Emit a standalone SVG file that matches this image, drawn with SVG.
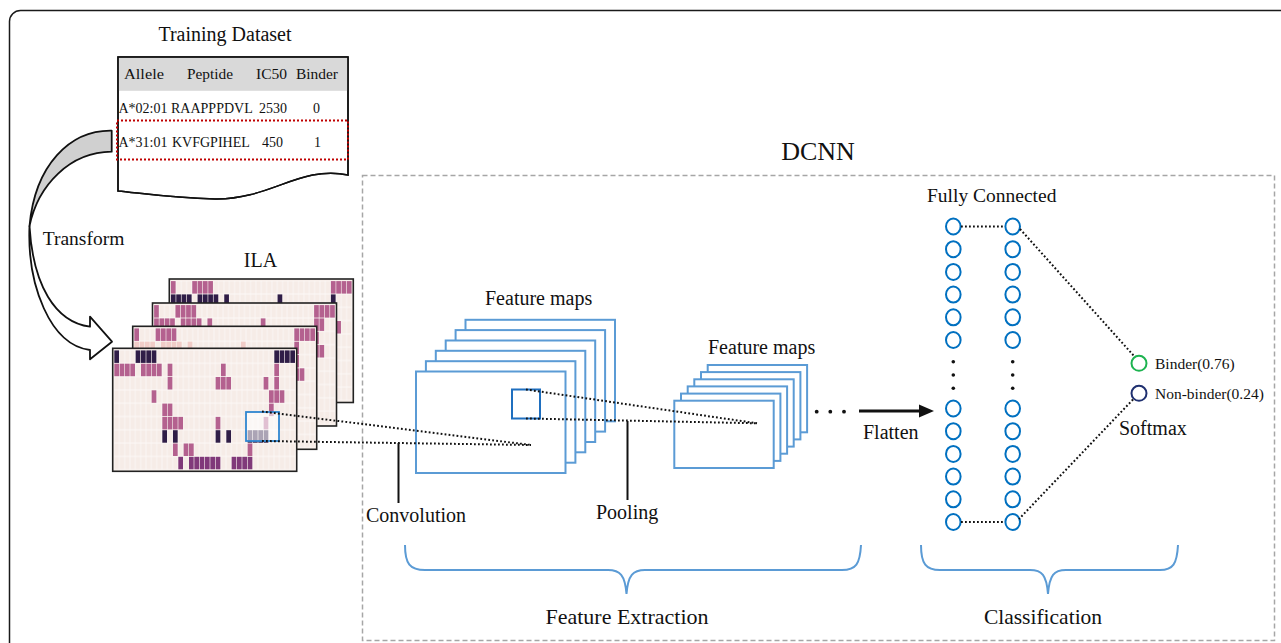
<svg xmlns="http://www.w3.org/2000/svg" xmlns:xlink="http://www.w3.org/1999/xlink" width="1281" height="643" viewBox="0 0 1281 643">
  <style>
    text { font-family: "Liberation Serif", "Times New Roman", serif; fill: #111; }
    .lbl { font-size: 20px; }
    .tbl { font-size: 15px; }
    .row { font-size: 14px; }
    .frame { fill: none; stroke: #1a1a1a; stroke-width: 1.5; }
    .panel { fill: #f7eee9; stroke: #222; stroke-width: 1.6; }
    .d { fill: #2f1d47; }
    .p { fill: #b4618f; }
    .m { fill: #80397a; }
    .l { fill: #f1cdc8; }
    .fmap { fill: #fff; stroke: #5b9bd5; stroke-width: 2; }
    .neuron { fill: #fff; stroke: #0070c0; stroke-width: 2; }
    .dot { fill: none; stroke: #111; stroke-width: 2; stroke-dasharray: 1.8 2.2; }
    .lead { stroke: #111; stroke-width: 2; }
    .brace { fill: none; stroke: #5b9bd5; stroke-width: 2; }
  </style>
  <defs>
    <!-- heatmap background tile: faint grid line around a cream cell -->
    <pattern id="grid" width="1" height="1" patternUnits="userSpaceOnUse">
      <rect width="1" height="1" fill="#fcf8f6"/>
      <rect x="0.08" y="0.04" width="0.84" height="0.92" fill="#f6ece7"/>
    </pattern>
    <rect id="c" x="0.06" y="0.03" width="0.88" height="0.94"/>
  </defs>

  <!-- outer rounded frame (runs off the right and bottom edges) -->
  <rect class="frame" x="9.5" y="10.5" width="1320" height="700" rx="11"/>

  <!-- training data table -->
  <g id="training-dataset">
    <text x="225" y="41" font-size="20" text-anchor="middle">Training Dataset</text>
    <path d="M118,57 H348 V175 C300,165 270,200 215,199 C170,198 140,193 118,191 Z" fill="#fff" stroke="#111" stroke-width="1.5"/>
    <rect x="118.8" y="57.8" width="228.5" height="33" fill="#d9d9d9"/>
    <path d="M118,57 H348 V175 C300,165 270,200 215,199 C170,198 140,193 118,191 Z" fill="none" stroke="#111" stroke-width="1.5"/>
    <g class="tbl">
      <text x="124" y="79" textLength="40" lengthAdjust="spacingAndGlyphs">Allele</text>
      <text x="187" y="79" textLength="46" lengthAdjust="spacingAndGlyphs">Peptide</text>
      <text x="256" y="79" textLength="31" lengthAdjust="spacingAndGlyphs">IC50</text>
      <text x="296" y="79" textLength="42" lengthAdjust="spacingAndGlyphs">Binder</text>
    </g>
    <g class="row">
      <text x="118.5" y="113">A*02:01</text>
      <text x="171" y="113">RAAPPPDVL</text>
      <text x="259" y="113">2530</text>
      <text x="313" y="113">0</text>
      <text x="118.5" y="147">A*31:01</text>
      <text x="172" y="147">KVFGPIHEL</text>
      <text x="262" y="147">450</text>
      <text x="314" y="147">1</text>
    </g>
    <rect x="117" y="120.5" width="231" height="39" fill="none" stroke="#c00000" stroke-width="2" stroke-dasharray="2 2"/>
  </g>

  <!-- curved block arrow -->
  <g id="transform-arrow" stroke="#111" stroke-width="1.8" stroke-linejoin="round">
    <path d="M111.7,130.7 C70,130 35,165 29.5,226 C38,185 70,152 111.7,151.7 Z" fill="#d0d0d0"/>
    <path d="M29.5,226 C27,285 50,345 90,350 L90,359.3 L112,341.7 L90,316.7 L90,326.7 C55,322 33,285 29.5,226 Z" fill="#fff"/>
    <text x="42.7" y="245" font-size="19.5" stroke="none">Transform</text>
  </g>

  <!-- stack of ILA heatmaps -->
  <g id="ila">
    <text x="260.5" y="267" class="lbl" text-anchor="middle">ILA</text>

    <g id="ila-4">
      <rect class="panel" x="169.3" y="279" width="184" height="123.5"/>
      <g transform="translate(170.6,280.7) scale(5.333,13.3)">
        <rect width="34" height="9" fill="url(#grid)"/>
        <use href="#c" x="0" y="0" class="p"/><use href="#c" x="4" y="0" class="p"/><use href="#c" x="5" y="0" class="p"/><use href="#c" x="6" y="0" class="p"/><use href="#c" x="7" y="0" class="p"/>
        <use href="#c" x="30" y="0" class="p"/><use href="#c" x="31" y="0" class="p"/><use href="#c" x="32" y="0" class="p"/><use href="#c" x="33" y="0" class="p"/>
        <use href="#c" x="0" y="1" class="d"/><use href="#c" x="1" y="1" class="d"/><use href="#c" x="2" y="1" class="d"/><use href="#c" x="3" y="1" class="d"/>
        <use href="#c" x="5" y="1" class="d"/><use href="#c" x="6" y="1" class="d"/><use href="#c" x="7" y="1" class="d"/><use href="#c" x="8" y="1" class="d"/>
        <use href="#c" x="10" y="1" class="d"/><use href="#c" x="20" y="1" class="d"/><use href="#c" x="30" y="1" class="d"/>
        <use href="#c" x="31" y="3" class="p"/>
      </g>
    </g>

    <g id="ila-3">
      <rect class="panel" x="152.5" y="303" width="184" height="123"/>
      <g transform="translate(153.8,304.7) scale(5.333,13.3)">
        <rect width="34" height="9" fill="url(#grid)"/>
        <use href="#c" x="0" y="0" class="p"/><use href="#c" x="4" y="0" class="p"/><use href="#c" x="5" y="0" class="p"/><use href="#c" x="6" y="0" class="p"/><use href="#c" x="7" y="0" class="p"/>
        <use href="#c" x="30" y="0" class="p"/><use href="#c" x="31" y="0" class="p"/><use href="#c" x="32" y="0" class="p"/><use href="#c" x="33" y="0" class="p"/>
        <use href="#c" x="0" y="1" class="p"/><use href="#c" x="1" y="1" class="p"/><use href="#c" x="2" y="1" class="p"/><use href="#c" x="3" y="1" class="p"/>
        <use href="#c" x="5" y="1" class="p"/><use href="#c" x="6" y="1" class="p"/><use href="#c" x="7" y="1" class="p"/><use href="#c" x="8" y="1" class="p"/>
        <use href="#c" x="10" y="1" class="p"/><use href="#c" x="20" y="1" class="p"/><use href="#c" x="30" y="1" class="p"/><use href="#c" x="31" y="1" class="p"/>
        <use href="#c" x="30" y="2" class="p"/>
        <use href="#c" x="30" y="3" class="p"/><use href="#c" x="31" y="3" class="p"/>
      </g>
    </g>

    <g id="ila-2">
      <rect class="panel" x="132.7" y="326.3" width="184" height="123"/>
      <g transform="translate(134,328) scale(5.333,13.3)">
        <rect width="34" height="9" fill="url(#grid)"/>
        <use href="#c" x="0" y="0" class="p"/><use href="#c" x="4" y="0" class="p"/><use href="#c" x="5" y="0" class="p"/><use href="#c" x="6" y="0" class="p"/><use href="#c" x="7" y="0" class="p"/>
        <use href="#c" x="30" y="0" class="p"/><use href="#c" x="31" y="0" class="p"/><use href="#c" x="32" y="0" class="p"/><use href="#c" x="33" y="0" class="p"/>
        <use href="#c" x="0" y="1" class="l"/><use href="#c" x="1" y="1" class="l"/><use href="#c" x="2" y="1" class="l"/><use href="#c" x="3" y="1" class="l"/>
        <use href="#c" x="5" y="1" class="l"/><use href="#c" x="6" y="1" class="l"/><use href="#c" x="7" y="1" class="l"/><use href="#c" x="8" y="1" class="l"/>
        <use href="#c" x="10" y="1" class="l"/><use href="#c" x="20" y="1" class="l"/><use href="#c" x="30" y="1" class="p"/>
        <use href="#c" x="30" y="2" class="p"/>
        <use href="#c" x="29" y="3" class="p"/><use href="#c" x="30" y="3" class="p"/><use href="#c" x="31" y="3" class="p"/>
      </g>
    </g>

    <g id="ila-1">
      <rect class="panel" x="112.7" y="348.3" width="184" height="123"/>
      <g transform="translate(114,350) scale(5.333,13.3)">
        <rect width="34" height="9" fill="url(#grid)"/>
        <!-- row 0 -->
        <use href="#c" x="0" y="0" class="d"/><use href="#c" x="4" y="0" class="d"/><use href="#c" x="5" y="0" class="d"/><use href="#c" x="6" y="0" class="d"/><use href="#c" x="7" y="0" class="d"/>
        <use href="#c" x="30" y="0" class="d"/><use href="#c" x="31" y="0" class="d"/><use href="#c" x="32" y="0" class="d"/><use href="#c" x="33" y="0" class="d"/>
        <!-- row 1 -->
        <use href="#c" x="0" y="1" class="p"/><use href="#c" x="1" y="1" class="p"/><use href="#c" x="2" y="1" class="p"/><use href="#c" x="3" y="1" class="p"/>
        <use href="#c" x="5" y="1" class="p"/><use href="#c" x="6" y="1" class="p"/><use href="#c" x="7" y="1" class="p"/><use href="#c" x="8" y="1" class="p"/>
        <use href="#c" x="10" y="1" class="p"/><use href="#c" x="20" y="1" class="p"/><use href="#c" x="30" y="1" class="p"/>
        <!-- row 2 -->
        <use href="#c" x="10" y="2" class="p"/><use href="#c" x="19" y="2" class="p"/><use href="#c" x="20" y="2" class="p"/><use href="#c" x="21" y="2" class="p"/>
        <use href="#c" x="28" y="2" class="p"/><use href="#c" x="30" y="2" class="p"/>
        <!-- row 3 -->
        <use href="#c" x="7" y="3" class="p"/><use href="#c" x="29" y="3" class="p"/><use href="#c" x="30" y="3" class="p"/><use href="#c" x="31" y="3" class="p"/>
        <!-- row 4 -->
        <use href="#c" x="9" y="4" class="p"/><use href="#c" x="10" y="4" class="p"/><use href="#c" x="29" y="4" class="p"/>
        <!-- row 5 -->
        <use href="#c" x="9" y="5" class="p"/><use href="#c" x="10" y="5" class="p"/><use href="#c" x="11" y="5" class="p"/><use href="#c" x="12" y="5" class="p"/>
        <use href="#c" x="19" y="5" class="p"/><use href="#c" x="28" y="5" class="p"/>
        <!-- row 6 -->
        <use href="#c" x="9" y="6" class="d"/><use href="#c" x="11" y="6" class="d"/><use href="#c" x="19" y="6" class="d"/><use href="#c" x="21" y="6" class="d"/>
        <use href="#c" x="25" y="6" class="d"/><use href="#c" x="26" y="6" class="d"/><use href="#c" x="27" y="6" class="d"/><use href="#c" x="28" y="6" class="d"/>
        <!-- row 7 -->
        <use href="#c" x="11" y="7" class="p"/><use href="#c" x="13" y="7" class="p"/><use href="#c" x="14" y="7" class="p"/><use href="#c" x="25" y="7" class="p"/>
        <!-- row 8 -->
        <use href="#c" x="12" y="8" class="m"/><use href="#c" x="14" y="8" class="m"/><use href="#c" x="15" y="8" class="m"/><use href="#c" x="16" y="8" class="m"/>
        <use href="#c" x="17" y="8" class="m"/><use href="#c" x="18" y="8" class="m"/><use href="#c" x="19" y="8" class="m"/>
        <use href="#c" x="22" y="8" class="m"/><use href="#c" x="23" y="8" class="m"/><use href="#c" x="24" y="8" class="m"/><use href="#c" x="25" y="8" class="m"/>
      </g>
      <!-- convolution window -->
      <rect x="246" y="412" width="33" height="29" fill="#fff" fill-opacity="0.6" stroke="#2f86d0" stroke-width="1.8"/>
    </g>
  </g>

  <!-- DCNN dashed frame -->
  <g id="dcnn-frame">
    <rect x="362.5" y="175.5" width="912" height="465" fill="none" stroke="#a6a6a6" stroke-width="1.5" stroke-dasharray="5 3"/>
    <text x="818" y="160" font-size="26" text-anchor="middle">DCNN</text>
  </g>

  <!-- first convolution feature maps -->
  <g id="feature-maps-1">
    <text x="485" y="305" class="lbl">Feature maps</text>
    <rect class="fmap" x="465.5" y="319.8" width="149.5" height="101.5"/>
    <rect class="fmap" x="455.6" y="330.1" width="149.5" height="101.5"/>
    <rect class="fmap" x="445.7" y="340.5" width="149.5" height="101.5"/>
    <rect class="fmap" x="435.8" y="350.8" width="149.5" height="101.5"/>
    <rect class="fmap" x="425.9" y="361.2" width="149.5" height="101.5"/>
    <rect class="fmap" x="416" y="371.5" width="149.5" height="101.5"/>
    <rect x="512" y="389.5" width="28" height="29" fill="none" stroke="#1f6fbf" stroke-width="2"/>
  </g>

  <!-- pooled feature maps -->
  <g id="feature-maps-2">
    <text x="708" y="354" class="lbl">Feature maps</text>
    <rect class="fmap" x="707.7" y="365" width="99.4" height="67.3"/>
    <rect class="fmap" x="701" y="372.1" width="99.4" height="67.3"/>
    <rect class="fmap" x="694.3" y="379.3" width="99.4" height="67.3"/>
    <rect class="fmap" x="687.7" y="386.4" width="99.4" height="67.3"/>
    <rect class="fmap" x="681" y="393.6" width="99.4" height="67.3"/>
    <rect class="fmap" x="674.3" y="400.7" width="99.4" height="67.3"/>
    <circle cx="816.7" cy="411.7" r="1.9" fill="#111"/>
    <circle cx="830.3" cy="411.7" r="1.9" fill="#111"/>
    <circle cx="844" cy="411.7" r="1.9" fill="#111"/>
  </g>

  <!-- fully connected layers -->
  <g id="fully-connected">
    <text x="927" y="202" font-size="19.5">Fully Connected</text>
    <g class="neuron">
      <ellipse cx="953.3" cy="226.5" rx="7.3" ry="8"/><ellipse cx="953.3" cy="249.2" rx="7.3" ry="8"/><ellipse cx="953.3" cy="271.9" rx="7.3" ry="8"/>
      <ellipse cx="953.3" cy="294.6" rx="7.3" ry="8"/><ellipse cx="953.3" cy="317.3" rx="7.3" ry="8"/><ellipse cx="953.3" cy="340" rx="7.3" ry="8"/>
      <ellipse cx="953.3" cy="408.5" rx="7.3" ry="8"/><ellipse cx="953.3" cy="431.2" rx="7.3" ry="8"/><ellipse cx="953.3" cy="453.9" rx="7.3" ry="8"/>
      <ellipse cx="953.3" cy="476.6" rx="7.3" ry="8"/><ellipse cx="953.3" cy="499.3" rx="7.3" ry="8"/><ellipse cx="953.3" cy="522" rx="7.3" ry="8"/>
      <ellipse cx="1012.7" cy="226.5" rx="7.3" ry="8"/><ellipse cx="1012.7" cy="249.2" rx="7.3" ry="8"/><ellipse cx="1012.7" cy="271.9" rx="7.3" ry="8"/>
      <ellipse cx="1012.7" cy="294.6" rx="7.3" ry="8"/><ellipse cx="1012.7" cy="317.3" rx="7.3" ry="8"/><ellipse cx="1012.7" cy="340" rx="7.3" ry="8"/>
      <ellipse cx="1012.7" cy="408.5" rx="7.3" ry="8"/><ellipse cx="1012.7" cy="431.2" rx="7.3" ry="8"/><ellipse cx="1012.7" cy="453.9" rx="7.3" ry="8"/>
      <ellipse cx="1012.7" cy="476.6" rx="7.3" ry="8"/><ellipse cx="1012.7" cy="499.3" rx="7.3" ry="8"/><ellipse cx="1012.7" cy="522" rx="7.3" ry="8"/>
    </g>
    <g fill="#111">
      <circle cx="953.3" cy="361.7" r="1.8"/><circle cx="953.3" cy="375" r="1.8"/><circle cx="953.3" cy="388.3" r="1.8"/>
      <circle cx="1012.7" cy="361.7" r="1.8"/><circle cx="1012.7" cy="375" r="1.8"/><circle cx="1012.7" cy="388.3" r="1.8"/>
    </g>
  </g>

  <!-- softmax outputs -->
  <g id="softmax">
    <circle cx="1139" cy="363.3" r="7.5" fill="#fff" stroke="#1db350" stroke-width="2"/>
    <circle cx="1139" cy="393.3" r="7.5" fill="#fff" stroke="#1f3070" stroke-width="2"/>
    <text x="1155" y="368.5" font-size="15.5">Binder(0.76)</text>
    <text x="1155" y="398.5" font-size="15.5">Non-binder(0.24)</text>
    <text x="1119" y="435" class="lbl">Softmax</text>
  </g>

  <!-- stage braces -->
  <g id="braces">
    <path class="brace" d="M405,545 C405,564 410,570 425,570 L608,570 C620,570 625,575 626.5,594 C628,575 633,570 645,570 L842,570 C856,570 860,564 861,545"/>
    <path class="brace" d="M921,545 C921,564 926,570 940,570 L1030,570 C1042,570 1046.5,575 1048,594 C1049.5,575 1054,570 1066,570 L1160,570 C1173,570 1177,564 1178,545"/>
    <text x="627" y="624" font-size="22" text-anchor="middle">Feature Extraction</text>
    <text x="1043" y="624" font-size="21.5" text-anchor="middle">Classification</text>
  </g>

  <!-- connectors -->
  <g id="connectors">
    <!-- receptive field of the convolution window -->
    <line class="dot" x1="262" y1="411.5" x2="531" y2="445"/>
    <line class="dot" x1="262" y1="441" x2="531" y2="445"/>
    <!-- receptive field of the pooling window -->
    <line class="dot" x1="526" y1="389.5" x2="757" y2="423.3"/>
    <line class="dot" x1="526" y1="418.5" x2="757" y2="423.3"/>
    <!-- label leaders -->
    <line class="lead" x1="398.5" y1="443" x2="398.5" y2="503"/>
    <line class="lead" x1="627.5" y1="421" x2="627.5" y2="500"/>
    <text x="366" y="522" class="lbl">Convolution</text>
    <text x="596" y="519" class="lbl">Pooling</text>
    <!-- flatten arrow -->
    <line x1="859" y1="411" x2="922" y2="411" stroke="#111" stroke-width="3"/>
    <polygon points="919,404.5 934,411 919,417.5" fill="#111"/>
    <text x="863" y="439" class="lbl">Flatten</text>
    <!-- dense links -->
    <line class="dot" x1="961" y1="226.5" x2="1005" y2="226.5"/>
    <line class="dot" x1="961" y1="522" x2="1005" y2="522"/>
    <line class="dot" x1="1020" y1="229" x2="1134" y2="356"/>
    <line class="dot" x1="1133" y1="399.5" x2="1019" y2="519"/>
  </g>
</svg>
